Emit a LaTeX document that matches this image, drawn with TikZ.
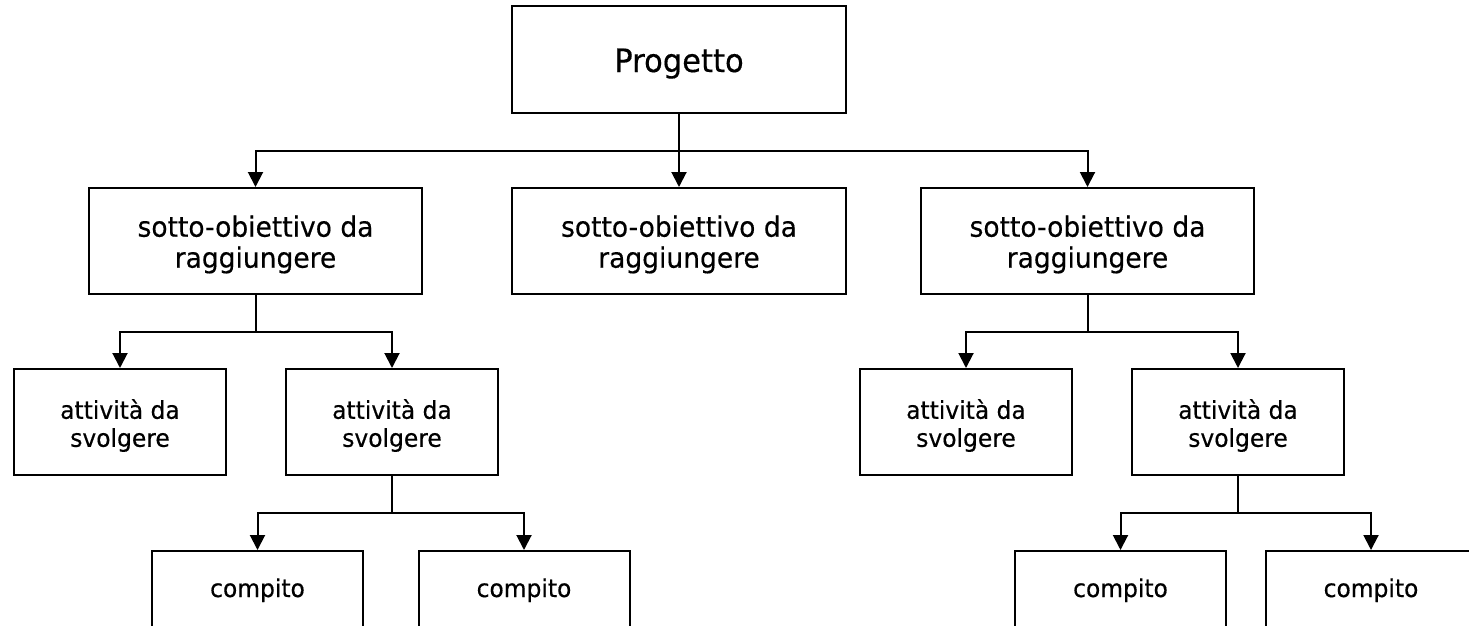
\documentclass[tikz,border=0pt]{standalone}
\usepackage{fontspec}
\setmainfont{DejaVu Sans}[FakeStretch=0.95,FakeBold=0.4]
\usetikzlibrary{arrows.meta,calc}
\tikzset{
  box/.style={draw=black, line width=2pt, rectangle, inner sep=0pt},
  topbox/.style={box, minimum width=334pt, minimum height=107pt},
  subbox/.style={box, minimum width=333pt, minimum height=106pt},
  actbox/.style={box, minimum width=212pt, minimum height=106pt},
  taskbox/.style={box, minimum width=211pt, minimum height=106pt},
  toptext/.style={inner sep=0pt, font=\fontsize{32.2}{38}\selectfont},
  subtext/.style={inner sep=0pt, align=center, font=\fontsize{27.9}{31}\selectfont},
  acttext/.style={inner sep=0pt, align=center, font=\fontsize{24.6}{28}\selectfont},
  tasktext/.style={inner sep=0pt, font=\fontsize{24.6}{28}\selectfont},
  link/.style={draw=black, line width=2pt},
  arr/.style={link, -{Triangle[length=15pt,width=15pt]}}
}
\begin{document}
\begin{tikzpicture}[x=1pt,y=-1pt]
\useasboundingbox (0,0) rectangle (1469,626);
\fill[white] (0,0) rectangle (1469,626);
\clip (0,0) rectangle (1469,626);

% boxes
\node[topbox] (P) at (679,59.5) {};

\node[subbox] (S1) at (255.5,241) {};
\node[subbox, minimum width=334pt] (S2) at (679,241) {};
\node[subbox] (S3) at (1087.5,241) {};

\node[actbox] (A1) at (120,422) {};
\node[actbox] (A2) at (392,422) {};
\node[actbox] (A3) at (966,422) {};
\node[actbox] (A4) at (1238,422) {};

\node[taskbox] (C1) at (257.5,604) {};
\node[taskbox] (C2) at (524,604) {};
\node[taskbox] (C3) at (1120.5,604) {};
\node[taskbox] (C4) at (1371,604) {};

% texts
\node[toptext, anchor=base] (tP) at ([yshift=-67pt]P.north) {Progetto};
\node[subtext] (tS1) at ([yshift=-3.5pt]S1.center) {sotto-obiettivo da\\raggiungere};
\node[subtext] (tS2) at ([yshift=-3.5pt]S2.center) {sotto-obiettivo da\\raggiungere};
\node[subtext] (tS3) at ([yshift=-3.5pt]S3.center) {sotto-obiettivo da\\raggiungere};
\node[acttext] (tA1) at ([yshift=-3.5pt]A1.center) {attività da\\svolgere};
\node[acttext] (tA2) at ([yshift=-3.5pt]A2.center) {attività da\\svolgere};
\node[acttext] (tA3) at ([yshift=-3.5pt]A3.center) {attività da\\svolgere};
\node[acttext] (tA4) at ([yshift=-3.5pt]A4.center) {attività da\\svolgere};
\node[tasktext, anchor=base] (tC1) at ([yshift=-47pt]C1.north) {compito};
\node[tasktext, anchor=base] (tC2) at ([yshift=-47pt]C2.north) {compito};
\node[tasktext, anchor=base] (tC3) at ([yshift=-47pt]C3.north) {compito};
\node[tasktext, anchor=base] (tC4) at ([yshift=-47pt]C4.north) {compito};

% level 1
\coordinate (j0) at ($(P.south)!0.5!(P.south|-S2.north)$);
\draw[link] (P.south) -- (j0);
\draw[arr] (j0) -| (S1.north);
\draw[arr] (j0) -- (S2.north);
\draw[arr] (j0) -| (S3.north);

% level 2 left
\coordinate (j1) at ($(S1.south)!0.5!(S1.south|-A1.north)$);
\draw[link] (S1.south) -- (j1);
\draw[arr] (j1) -| (A1.north);
\draw[arr] (j1) -| (A2.north);

% level 2 right
\coordinate (j2) at ($(S3.south)!0.5!(S3.south|-A3.north)$);
\draw[link] (S3.south) -- (j2);
\draw[arr] (j2) -| (A3.north);
\draw[arr] (j2) -| (A4.north);

% level 3 left
\coordinate (j3) at ($(A2.south)!0.5!(A2.south|-C1.north)$);
\draw[link] (A2.south) -- (j3);
\draw[arr] (j3) -| (C1.north);
\draw[arr] (j3) -| (C2.north);

% level 3 right
\coordinate (j4) at ($(A4.south)!0.5!(A4.south|-C3.north)$);
\draw[link] (A4.south) -- (j4);
\draw[arr] (j4) -| (C3.north);
\draw[arr] (j4) -| (C4.north);
\end{tikzpicture}
\end{document}
